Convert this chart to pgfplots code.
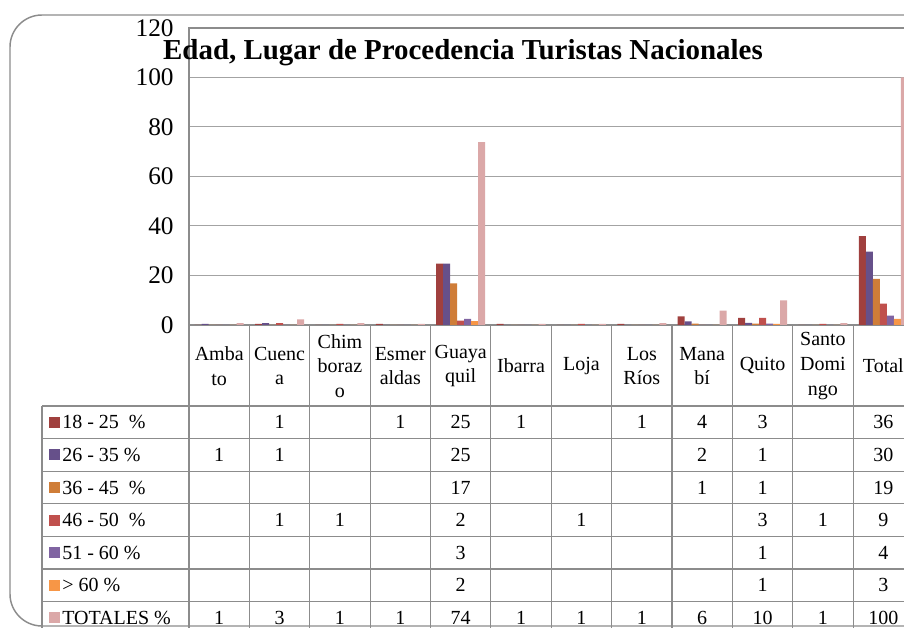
\documentclass[border=0pt]{standalone}
\usepackage{fontspec}
\setmainfont{Liberation Serif}
\usepackage{pgfplots}
\usepackage{pgfplotstable}
\pgfplotsset{compat=1.18}
\definecolor{cA}{HTML}{A0403E}
\definecolor{cB}{HTML}{66508A}
\definecolor{cC}{HTML}{CF7D38}
\definecolor{cD}{HTML}{C0504D}
\definecolor{cE}{HTML}{8064A2}
\definecolor{cF}{HTML}{F79646}
\definecolor{cG}{HTML}{DBA8A8}
\definecolor{ln}{HTML}{8C8C8C}
\pgfplotstableread{
x a b c d e f g
0 0 0.5 0 0 0 0 0.8
1 0.5 0.8 0 0.8 0 0 2.3
2 0 0 0 0.5 0 0 0.8
3 0.5 0 0 0 0 0 0.5
4 24.8 24.8 16.8 1.8 2.5 1.6 73.9
5 0.5 0 0 0 0 0 0.5
6 0 0 0 0.5 0 0 0.5
7 0.5 0 0 0 0 0 0.8
8 3.5 1.5 0.6 0 0 0 5.8
9 2.9 0.9 0.6 2.9 0.6 0.5 9.9
10 0 0 0 0.5 0 0 0.8
11 35.9 29.6 18.6 8.6 3.8 2.5 100
}\datatable
\newcommand\cell[3]{\node[font=\fontsize{15}{18}\selectfont] at ({189+60.375*(#1+0.5)},{422.3+32.6*#2}) {#3};}
\newcommand\hdr[2]{\node[align=center,font=\fontsize{15}{18.5}\selectfont] at ({189+60.375*(#1+0.5)},366) {#2};}
\newcommand\lab[3]{\fill[#2] (49,{416.8+32.6*#1}) rectangle (60,{427.8+32.6*#1}); \node[anchor=west,inner sep=0pt,font=\fontsize{15}{18}\selectfont] at (62,{422.3+32.6*#1}) {#3};}
\begin{document}
\begin{tikzpicture}
\useasboundingbox (0,0) rectangle (678pt,471pt);
\clip (0,0) rectangle (678pt,471pt);
\begin{scope}[x=0.75pt,y=-0.75pt,yshift=471pt]
\draw[ln, line width=1.1pt, rounded corners=24pt] (10,15) rectangle (980,626);
\end{scope}
\begin{axis}[
  at={(141.75pt,227.25pt)}, anchor=south west,
  scale only axis, width=543.4pt, height=222.75pt,
  xmin=-0.5, xmax=11.5, ymin=0, ymax=120,
  ytick={0,20,...,120}, xtick=\empty,
  ymajorgrids, grid style={color=ln!80, line width=0.75pt},
  axis line style={ln, line width=1.1pt},
  major tick length=0pt,
  /pgf/number format/assume math mode=true,
  yticklabel style={font=\fontsize{19}{20}\selectfont, xshift=-8pt},
  ybar=0pt, bar width=0.116,
  clip=false,
]
\addplot[fill=cA, draw=none] table[x=x,y=a]{\datatable};
\addplot[fill=cB, draw=none] table[x=x,y=b]{\datatable};
\addplot[fill=cC, draw=none] table[x=x,y=c]{\datatable};
\addplot[fill=cD, draw=none] table[x=x,y=d]{\datatable};
\addplot[fill=cE, draw=none] table[x=x,y=e]{\datatable};
\addplot[fill=cF, draw=none] table[x=x,y=f]{\datatable};
\addplot[fill=cG, draw=none] table[x=x,y=g]{\datatable};
\end{axis}
\begin{scope}[x=0.75pt,y=-0.75pt,yshift=471pt]
\node[font=\bfseries\fontsize{21.7}{24}\selectfont] at (463,53) {Edad, Lugar de Procedencia Turistas Nacionales};
% table grid
\foreach \c in {0,...,12} \draw[ln, line width=0.9pt] ({189+60.375*\c},325) -- ({189+60.375*\c},640);
\draw[ln, line width=0.9pt] (42,406) -- (42,640);
\foreach \r in {0,...,7} \draw[ln, line width=0.9pt] (42,{406+32.6*\r}) -- (930,{406+32.6*\r});
\hdr{0}{Amba\\to}
\hdr{1}{Cuenc\\a}
\hdr{2}{Chim\\boraz\\o}
\hdr{3}{Esmer\\aldas}
\hdr{4}{Guaya\\quil}
\hdr{5}{Ibarra}
\hdr{6}{Loja}
\hdr{7}{Los\\Ríos}
\hdr{8}{Mana\\bí}
\hdr{9}{Quito}
\hdr{10}{Santo\\Domi\\ngo}
\hdr{11}{Total}
\lab{0}{cA}{18 - 25\ \ \%}
\lab{1}{cB}{26 - 35 \%}
\lab{2}{cC}{36 - 45\ \ \%}
\lab{3}{cD}{46 - 50\ \ \%}
\lab{4}{cE}{51 - 60 \%}
\lab{5}{cF}{> 60 \%}
\lab{6}{cG}{TOTALES \%}
% row 0: 18-25
\cell{1}{0}{1}\cell{3}{0}{1}\cell{4}{0}{25}\cell{5}{0}{1}\cell{7}{0}{1}\cell{8}{0}{4}\cell{9}{0}{3}\cell{11}{0}{36}
% row 1: 26-35
\cell{0}{1}{1}\cell{1}{1}{1}\cell{4}{1}{25}\cell{8}{1}{2}\cell{9}{1}{1}\cell{11}{1}{30}
% row 2: 36-45
\cell{4}{2}{17}\cell{8}{2}{1}\cell{9}{2}{1}\cell{11}{2}{19}
% row 3: 46-50
\cell{1}{3}{1}\cell{2}{3}{1}\cell{4}{3}{2}\cell{6}{3}{1}\cell{9}{3}{3}\cell{10}{3}{1}\cell{11}{3}{9}
% row 4: 51-60
\cell{4}{4}{3}\cell{9}{4}{1}\cell{11}{4}{4}
% row 5: >60
\cell{4}{5}{2}\cell{9}{5}{1}\cell{11}{5}{3}
% row 6: totales
\cell{0}{6}{1}\cell{1}{6}{3}\cell{2}{6}{1}\cell{3}{6}{1}\cell{4}{6}{74}\cell{5}{6}{1}\cell{6}{6}{1}\cell{7}{6}{1}\cell{8}{6}{6}\cell{9}{6}{10}\cell{10}{6}{1}\cell{11}{6}{100}
\end{scope}
\end{tikzpicture}
\end{document}
